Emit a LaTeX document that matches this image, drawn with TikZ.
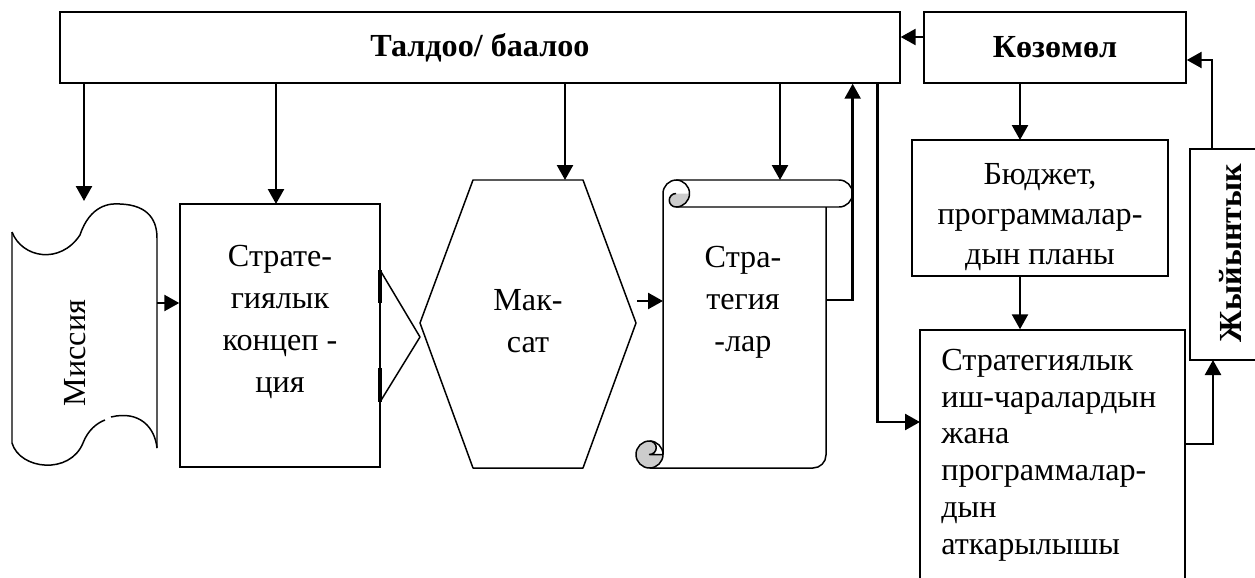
\documentclass[tikz,border=0pt]{standalone}
\usepackage{fontspec}
\setmainfont{Liberation Serif}
\usetikzlibrary{arrows.meta}

\begin{document}
\begin{tikzpicture}[x=0.02cm,y=-0.02cm,font=\fontsize{18.3}{24}\selectfont,
  box/.style={draw,line width=0.85pt,inner sep=0pt},
  arr/.style={line width=1.4pt,-{Triangle[length=0.3cm,width=0.32cm]}},
  lbl/.style={align=center,inner sep=0pt},
  shp/.style={line width=0.85pt,line join=round}]
  \useasboundingbox (0,0) rectangle (1255,578);
  \clip (0,0) rectangle (1255,578);
  % Top row: analysis and control
  \node[box,minimum width=16.8cm,minimum height=1.42cm] (talda) at (480,47.5) {\bfseries Талдоо/ баалоо};
  \node[box,minimum width=5.24cm,minimum height=1.42cm] (kozomol) at (1055,47.5) {\bfseries Көзөмөл};
  % Mission tape
  \draw[shp] (12,232) .. controls (22,258) and (60,265) .. (80,235)
    .. controls (90,205) and (110,203) .. (120,204) .. controls (150,205) and (157,222) .. (157,238)
    -- (157,448);
  \draw[shp] (12,232) -- (12,443) .. controls (20,470) and (70,475) .. (83,443)
    .. controls (88,430) and (97,423) .. (105,420);
  \draw[shp] (111,417) .. controls (140,410) and (155,428) .. (157,448);
  \node[rotate=90] (missiya) at (75,353) {Миссия};
  % Concept box and chevron
  \node[box,minimum width=4cm,minimum height=5.26cm] (kontsept) at (280,335.5) {};
  \node[lbl] (kontseptTxt) at (280,322) {Страте-\\гиялык\\концеп -\\ция};
  \draw[shp] (380,270) -- (420,337) -- (380,402);
  \draw[line width=2pt] (380,270) -- (380,303) (380,368) -- (380,402);
  % Goal hexagon
  \draw[shp] (473,180) -- (583,180) -- (636,323) -- (583,468) -- (473,468) -- (420,323) -- cycle;
  \node[lbl] (maksat) at (528,321) {Мак-\\сат};
  % Strategy scroll
  \fill[gray!40] (676,193.5) arc (270:90:6.75) arc (90:0:13.5) -- cycle;
  \filldraw[shp,fill=gray!40] (649.5,441) arc (270:0:13.5) -- (649.5,454.5) arc (90:-90:6.75) -- cycle;
  \draw[shp] (663,454.5) -- (663,193.5) arc (180:270:13.5) -- (839,180) arc (270:450:13.5) -- (676,207);
  \draw[shp] (676,180) arc (270:450:13.5);
  \draw[shp] (676,193.5) arc (270:90:6.75);
  \draw[shp] (649.5,441) arc (270:360:13.5);
  \draw[shp] (826,207) -- (826,455) arc (0:90:13) -- (649.5,468);
  \node[lbl] (strategiya) at (743,302) {Стра-\\тегия\\-лар};
  % Right column
  \node[box,minimum width=5.12cm,minimum height=2.72cm] (byudzhet) at (1040,208) {};
  \node[lbl,font=\fontsize{18.3}{22.7}\selectfont] (byudzhetTxt) at (1040,217) {Бюджет,\\программалар-\\дын планы};
  \node[box,minimum width=5.3cm,minimum height=5.8cm] (ish) at (1052.5,475) {};
  \node[lbl,align=left,anchor=west,font=\fontsize{18.3}{20.9}\selectfont] (ishTxt) at (941,455)
    {Стратегиялык\\иш-чаралардын\\жана\\программалар-\\дын\\аткарылышы};
  \node[box,minimum width=1.44cm,minimum height=4.22cm] (zhyiyn) at (1226,254.5) {};
  \node[rotate=90] (zhyiynTxt) at (1230,253) {\bfseries Жыйынтык};
  % Connectors
  \coordinate (misTop) at (84,201);
  \coordinate (kTop) at (276,204);
  \coordinate (maksTop) at (565,180);
  \coordinate (strTop) at (780,180);
  \coordinate (misOut) at (157,303);
  \coordinate (maksOut) at (637,301);
  \coordinate (strIn) at (663,301);
  \coordinate (strOut) at (826,300);
  \coordinate (ishIn) at (920,422);
  \coordinate (ishOut) at (1185,444);
  \coordinate (bIn) at (1020,140);
  \coordinate (bOut) at (1020,276);
  \coordinate (zIn) at (1213,360);
  \coordinate (zOut) at (1212,149);
  \foreach \c in {misTop,kTop,maksTop,strTop} \draw[arr] (talda.south -| \c) -- (\c);
  \draw[arr] ([yshift=0.21cm]kozomol.west) -- ([yshift=0.21cm]talda.east);
  \draw[arr] (misOut) -- (misOut -| kontsept.west);
  \draw[arr] (maksOut) -- (strIn);
  \draw[arr] (strOut) -| ([xshift=-0.96cm]talda.south east);
  \draw[arr] ([xshift=-0.46cm]talda.south east) |- (ishIn);
  \draw[arr] (bIn |- kozomol.south) -- (bIn);
  \draw[arr] (bOut) -- (bOut |- ish.north);
  \draw[arr] (ishOut) -| (zIn);
  \draw[arr] (zOut) |- ([yshift=-0.25cm]kozomol.east);
\end{tikzpicture}
\end{document}
